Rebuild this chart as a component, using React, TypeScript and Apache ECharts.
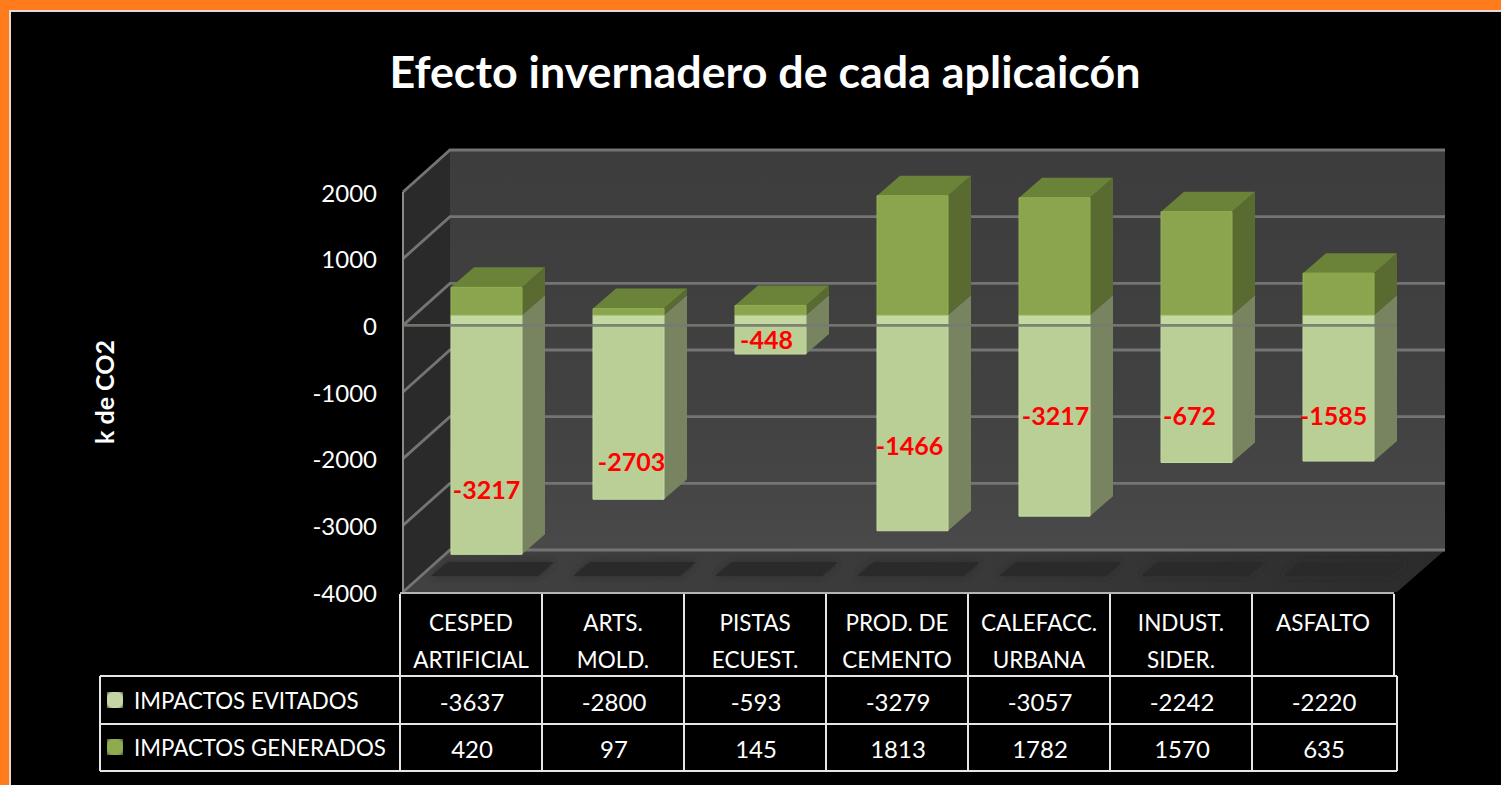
import React, { useEffect, useRef } from "react";
import * as echarts from "echarts";

const categories = ["CESPED\nARTIFICIAL", "ARTS.\nMOLD.", "PISTAS\nECUEST.", "PROD. DE\nCEMENTO", "CALEFACC.\nURBANA", "INDUST.\nSIDER.", "ASFALTO\n "];
const avoided = [-3637, -2800, -593, -3279, -3057, -2242, -2220];
const generated = [420, 97, 145, 1813, 1782, 1570, 635];
const redLabels = ["-3217", "-2703", "-448", "-1466", "-3217", "-672", "-1585"];
// label anchors, in axis units on the bar plane
const redLabelLevels = [-2645, -2215, -365, -1975, -1515, -1515, -1515];
const redLabelShift = [0, 3, -4, -3, 1, -7, -5];
const seriesNames = ["IMPACTOS EVITADOS", "IMPACTOS GENERADOS"];
const wallTicks = [2000, 1000, 0, -1000, -2000, -3000, -4000];

const FONT = "Lato";
const DX = 47, DY = -42;
const FRONT_L = 403, FRONT_R = 1397;
const BAR_W = 71, BD_X = 23, BD_Y = -20;
const COL_X = [400, 542, 684, 826, 968, 1110, 1252];
const TABLE_R = 1394;

const C = {
  lightFront: "#b9cf95", lightEdge: "#c6daa5", lightSide: "#77845f",
  darkFront: "#8aa54e", darkEdge: "#93b152", darkTop: "#6b8339", darkSide: "#596b30",
  grid: "#747474", table: "#e6e6e6",
};

const poly = (points: number[][], fill: any, extra: any = {}) => ({
  type: "polygon", shape: { points }, style: { fill, ...extra }, silent: true,
});

function App() {
  const ref = useRef<HTMLDivElement>(null);
  useEffect(() => {
    const chart = echarts.init(ref.current!, null, { renderer: "svg" });

    const line = (x1: number, y1: number, x2: number, y2: number, stroke = C.table, lineWidth = 2) => ({
      type: "line", shape: { x1, y1, x2, y2 }, style: { stroke, lineWidth }, silent: true, z: 5,
    });
    const txt = (text: string, x: number, y: number, align = "center", size = 24) => ({
      type: "text", x, y, silent: true, z: 5,
      style: { text, fill: "#ffffff", font: `${size}px ${FONT}`, textAlign: align, textVerticalAlign: "middle" },
    });

    const tableEls: any[] = [];
    COL_X.forEach((x) => tableEls.push(line(x, 594, x, 771)));
    tableEls.push(line(TABLE_R, 594, TABLE_R, 676));
    tableEls.push(line(1397, 676, 1397, 771));
    tableEls.push(line(100, 676, 100, 771));
    [676, 724, 771].forEach((y) => tableEls.push(line(100, y, 1397, y)));
    tableEls.push(line(400, 593, TABLE_R, 593, "#b4b4b4", 2));
    avoided.forEach((v, i) => tableEls.push(txt(String(v), COL_X[i] + 72, 701)));
    generated.forEach((v, i) => tableEls.push(txt(String(v), COL_X[i] + 72, 748)));
    const legendCols = ["#c4d6a4", "#8fab50"];
    seriesNames.forEach((n, i) => {
      const y = i === 0 ? 700 : 747;
      tableEls.push(txt(n, 134, y, "left", 22.3));
      tableEls.push({
        type: "rect", shape: { x: 107, y: y - 8, width: 16, height: 16 }, silent: true, z: 5,
        style: {
          fill: { type: "radial", x: 0.5, y: 0.5, r: 0.75, colorStops: [{ offset: 0, color: legendCols[i] }, { offset: 0.65, color: legendCols[i] }, { offset: 1, color: "#3a4228" }] },
        },
      });
    });

    const renderWalls = (_p: any, api: any) => {
      const yOf = (v: number) => api.coord([0, v])[1];
      const top = yOf(2000), bot = yOf(-4000);
      const children: any[] = [
        poly([[FRONT_L, top], [FRONT_L + DX, top + DY], [FRONT_L + DX, bot + DY], [FRONT_L, bot]], "#2a2a2a"),
        poly([[FRONT_L + DX, top + DY], [1445, top + DY], [1445, bot + DY], [FRONT_L + DX, bot + DY]], {
          type: "linear", x: 0, y: 0, x2: 0, y2: 1,
          colorStops: [{ offset: 0, color: "#3d3d3d" }, { offset: 0.6, color: "#414141" }, { offset: 1, color: "#494949" }],
        }),
        poly([[FRONT_L, bot], [FRONT_L + DX, bot + DY], [1445, bot + DY], [FRONT_R, bot]], {
          type: "linear", x: 0, y: 0, x2: 1, y2: 0,
          colorStops: [{ offset: 0, color: "#414141" }, { offset: 0.6, color: "#383838" }, { offset: 1, color: "#2b2b2b" }],
        }),
      ];
      wallTicks.forEach((t) => {
        const y = yOf(t);
        children.push({
          type: "polyline", silent: true,
          shape: { points: [[FRONT_L, y], [FRONT_L + DX, y + DY], [1445, y + DY]] },
          style: { stroke: C.grid, lineWidth: 2.8, fill: "none" },
        });
      });
      children.push({ type: "line", silent: true, shape: { x1: FRONT_L, y1: top, x2: FRONT_L, y2: bot }, style: { stroke: "#8a8a8a", lineWidth: 2 } });
      return { type: "group", children };
    };

    const renderShadow = (_p: any, api: any) => {
      const cx = api.coord([api.value(0), 0])[0];
      const l = cx - BAR_W / 2;
      return poly([[l - 3, 562], [l + 103, 562], [l + 87, 576], [l - 20, 576]], "#2a2a2a", { shadowBlur: 6, shadowColor: "#2a2a2a" });
    };

    const renderBar = (_p: any, api: any) => {
      const i = api.value(0);
      const cx = api.coord([i, 0])[0];
      const l = cx - BAR_W / 2, r = cx + BAR_W / 2;
      const y0 = api.coord([i, 0])[1];
      const yNeg = api.coord([i, api.value(1)])[1];
      const yPos = api.coord([i, api.value(2)])[1];
      const axisY = y0 + 10;
      return {
        type: "group",
        children: [
          poly([[r, y0], [r + BD_X, y0 + BD_Y], [r + BD_X, yNeg + BD_Y], [r, yNeg]], C.lightSide),
          poly([[l, yNeg], [l, y0], [r, y0], [r, yNeg]], C.lightFront, { stroke: C.lightEdge, lineWidth: 1 }),
          poly([[l, y0], [l, axisY], [r, axisY], [r, y0]], "#c4d9a2"),
          poly([[r, yPos], [r + BD_X, yPos + BD_Y], [r + BD_X, y0 + BD_Y], [r, y0]], C.darkSide),
          poly([[l, yPos], [l + BD_X, yPos + BD_Y], [r + BD_X, yPos + BD_Y], [r, yPos]], C.darkTop),
          poly([[l, y0], [l, yPos], [r, yPos], [r, y0]], C.darkFront, { stroke: C.darkEdge, lineWidth: 1 }),
        ],
      };
    };

    const renderZero = (_p: any, api: any) => {
      const y = api.coord([0, 0])[1];
      return { type: "line", silent: true, shape: { x1: FRONT_L, y1: y, x2: FRONT_R, y2: y }, style: { stroke: "rgba(118,122,112,0.9)", lineWidth: 2.6 } };
    };

    const renderLabel = (_p: any, api: any) => {
      const i = api.value(0);
      const p = api.coord([i, redLabelLevels[i]]);
      return {
        type: "text", silent: true, x: p[0] + redLabelShift[i], y: p[1],
        style: { text: redLabels[i], fill: "#ff0000", font: `bold 25px ${FONT}`, textAlign: "center", textVerticalAlign: "middle" },
      };
    };

    const idx = categories.map((_, i) => [i, avoided[i], generated[i]]);
    const barAxes = { xAxisIndex: 1, yAxisIndex: 1 };
    chart.setOption({
      animation: false,
      backgroundColor: "#000000",
      title: {
        text: "Efecto invernadero de cada aplicaicón",
        left: 760, top: 43, textAlign: "center",
        textStyle: { color: "#ffffff", fontFamily: FONT, fontWeight: "bold", fontSize: 44.8 },
      },
      graphic: { elements: [
        { type: "rect", z: -10, silent: true, shape: { x: 0, y: 0, width: 1501, height: 11 }, style: { fill: "#ff7b1c" } },
        { type: "rect", z: -10, silent: true, shape: { x: 0, y: 0, width: 9, height: 785 }, style: { fill: "#ff7b1c" } },
        { type: "rect", z: -9, silent: true, shape: { x: 9, y: 10, width: 1492, height: 2 }, style: { fill: "#e4dcd4" } },
        { type: "rect", z: -9, silent: true, shape: { x: 9, y: 10, width: 2, height: 775 }, style: { fill: "#e4dcd4" } },
        ...tableEls,
      ] },
      grid: [
        { left: 400, top: 192, width: 994, height: 400 },
        { left: 415.5, top: 183.4, width: 994, height: 394.8 },
      ],
      xAxis: [
        {
          type: "category", data: categories, gridIndex: 0, position: "bottom",
          axisLine: { show: false, onZero: false }, axisTick: { show: false },
          axisLabel: { color: "#ffffff", fontFamily: FONT, fontSize: 22.5, lineHeight: 37, margin: 12, interval: 0 },
        },
        { type: "category", data: categories, gridIndex: 1, show: false },
      ],
      yAxis: [
        {
          type: "value", gridIndex: 0, min: -4000, max: 2000, interval: 1000,
          name: "k de CO2", nameLocation: "middle", nameRotate: 90, nameGap: 284,
          nameTextStyle: { color: "#ffffff", fontFamily: FONT, fontWeight: "bold", fontSize: 25 },
          axisLine: { show: false }, axisTick: { show: false }, splitLine: { show: false },
          axisLabel: { color: "#ffffff", fontFamily: FONT, fontSize: 24, margin: 23, padding: [7, 0, 0, 0], formatter: (v: number) => String(v) },
        },
        { type: "value", gridIndex: 1, min: -4000, max: 2000, interval: 1000, show: false, splitLine: { show: false } },
      ],
      series: [
        { type: "custom", name: "walls", xAxisIndex: 0, yAxisIndex: 0, z: 1, clip: false, renderItem: renderWalls, data: [[0, 0]], encode: { x: 0, y: 1 } },
        { type: "custom", name: "floor", ...barAxes, z: 2, clip: false, renderItem: renderShadow, data: idx, encode: { x: 0, y: 1 } },
        { type: "custom", name: seriesNames.join(" / "), ...barAxes, z: 3, clip: false, renderItem: renderBar, data: idx, encode: { x: 0, y: [1, 2] } },
        { type: "custom", name: "zero", xAxisIndex: 0, yAxisIndex: 0, z: 4, clip: false, renderItem: renderZero, data: [[0, 0]], encode: { x: 0, y: 1 } },
        { type: "custom", name: "labels", ...barAxes, z: 5, clip: false, renderItem: renderLabel, data: idx, encode: { x: 0, y: 1 } },
      ],
    });
    return () => chart.dispose();
  }, []);
  return <div ref={ref} style={{ position: "fixed", left: 0, top: 0, width: 1501, height: 785, background: "#000" }} />;
}

export default App;
